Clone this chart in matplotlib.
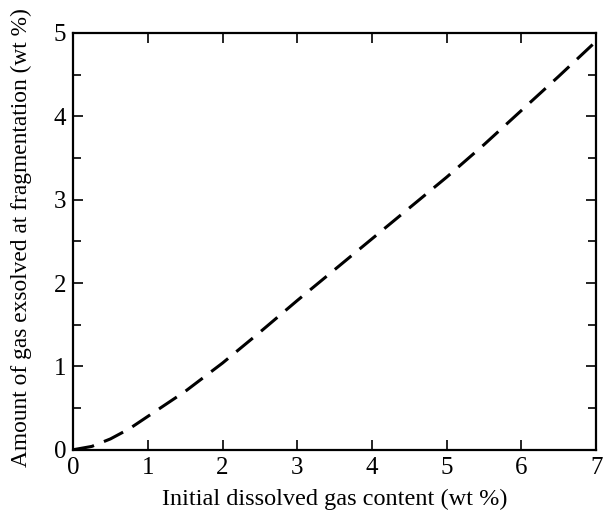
import matplotlib.pyplot as plt
from matplotlib.ticker import MultipleLocator

# initial dissolved gas content (wt %) vs gas exsolved at fragmentation (wt %)
gas_initial = [0, 0.25, 0.5, 0.75, 1, 1.5, 2, 2.5, 3, 3.5, 4, 4.5, 5, 5.5, 6, 6.5, 7]
gas_exsolved = [0, 0.04, 0.13, 0.25, 0.40, 0.70, 1.04, 1.41, 1.79, 2.16, 2.53,
                2.90, 3.27, 3.66, 4.07, 4.48, 4.90]

plt.rcParams['font.family'] = ['Liberation Serif', 'DejaVu Serif']

fig = plt.figure(figsize=(6.04, 5.14), dpi=100)
ax = fig.add_axes([0.121, 0.125, 0.866, 0.811])

ax.plot(gas_initial, gas_exsolved, color='black', lw=2.2, dashes=(7, 3.5))

ax.set_xlim(0, 7)
ax.set_ylim(0, 5)
ax.xaxis.set_major_locator(MultipleLocator(1))
ax.yaxis.set_major_locator(MultipleLocator(1))
ax.yaxis.set_minor_locator(MultipleLocator(0.5))

for s in ax.spines.values():
	s.set_linewidth(1.6)

ax.tick_params(which='both', direction='in', top=True, right=True, width=1.2, labelsize=18)
ax.tick_params(which='major', length=7, pad=5)
ax.tick_params(which='minor', length=6)

ax.set_xlabel('Initial dissolved gas content (wt %)', fontsize=17.5, labelpad=7)
ax.set_ylabel('Amount of gas exsolved at fragmentation (wt %)', fontsize=16.8)
ax.yaxis.set_label_coords(-0.078, 0.51)

fig.savefig('out.png', dpi=100)
